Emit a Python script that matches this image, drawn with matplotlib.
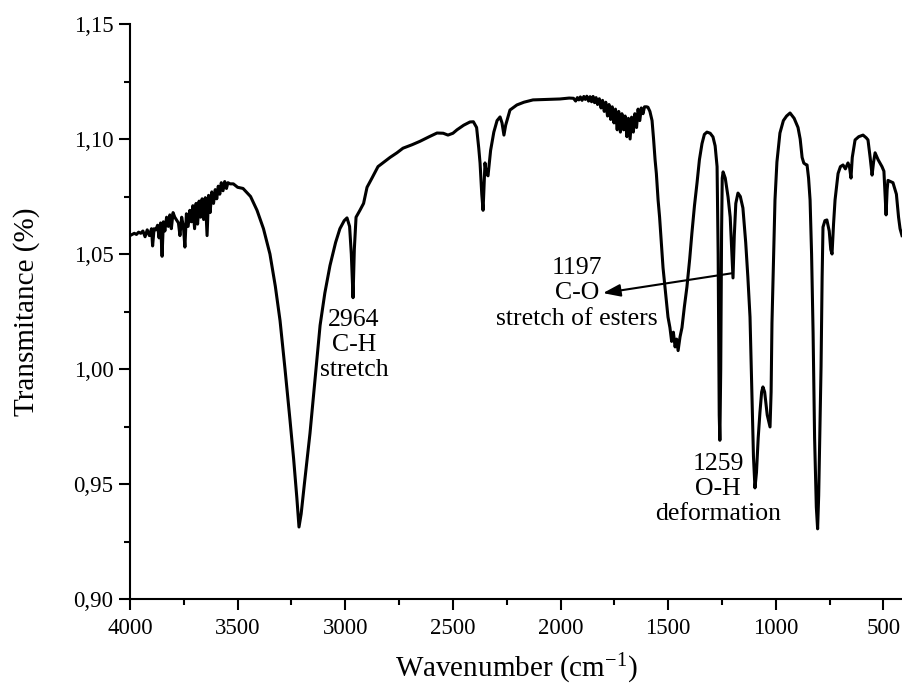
import numpy as np
import matplotlib
matplotlib.use('Agg')
import matplotlib.pyplot as plt
from matplotlib.ticker import MultipleLocator, FuncFormatter

# espectro FTIR (numero de onda em cm-1, transmitancia)
# 4000-3500: regiao com ruido
wn_a = [4000, 3990, 3980, 3970, 3960, 3950, 3940, 3930, 3920, 3910,
        3900, 3895, 3888, 3880, 3872, 3865, 3858, 3851, 3845, 3838,
        3830, 3822, 3815, 3808, 3800, 3792, 3785, 3775, 3768, 3760,
        3752, 3745, 3738, 3730, 3722, 3715, 3708, 3700, 3693, 3686,
        3679, 3672, 3665, 3658, 3650, 3642, 3635, 3628, 3620, 3612,
        3604, 3597, 3590, 3583, 3576, 3568, 3560, 3552, 3545, 3535,
        3520, 3500]
t_a = [1.058, 1.0585, 1.059, 1.0585, 1.0595, 1.059, 1.060, 1.0575, 1.0605, 1.058,
       1.061, 1.0535, 1.061, 1.0605, 1.0625, 1.057, 1.0635, 1.049, 1.064, 1.060,
       1.066, 1.062, 1.067, 1.061, 1.068, 1.066, 1.065, 1.0635, 1.058, 1.066,
       1.062, 1.053, 1.0675, 1.062, 1.069, 1.064, 1.071, 1.061, 1.072, 1.063,
       1.073, 1.066, 1.074, 1.065, 1.0745, 1.058, 1.0755, 1.068, 1.077, 1.072,
       1.078, 1.074, 1.0795, 1.076, 1.081, 1.0775, 1.0815, 1.0785, 1.081, 1.0805,
       1.0805, 1.079]

# 3475-1960
wn_b = [3475, 3440, 3410, 3380, 3350, 3325, 3303, 3280, 3257, 3240,
        3225, 3215, 3205, 3190, 3164, 3140, 3117, 3095, 3071, 3045,
        3025, 3005, 2992, 2980, 2972, 2964, 2958, 2950, 2932, 2915,
        2899, 2876, 2848, 2820, 2792, 2760, 2732, 2690, 2653, 2610,
        2574, 2545, 2523, 2500, 2481, 2450, 2421, 2405, 2390, 2380,
        2374, 2366, 2360, 2355, 2351, 2345, 2337, 2325, 2310, 2295,
        2281, 2272, 2263, 2255, 2235, 2203, 2170, 2128, 2060, 2003,
        1960]
t_b = [1.0785, 1.075, 1.069, 1.061, 1.050, 1.036, 1.021, 1.000, 0.978, 0.961,
       0.944, 0.9313, 0.937, 0.950, 0.972, 0.996, 1.019, 1.033, 1.045, 1.055,
       1.061, 1.0645, 1.0657, 1.062, 1.050, 1.031, 1.052, 1.066, 1.069, 1.072,
       1.079, 1.083, 1.088, 1.090, 1.092, 1.094, 1.096, 1.0975, 1.099, 1.101,
       1.1026, 1.1025, 1.1017, 1.1025, 1.104, 1.106, 1.1074, 1.1075, 1.105, 1.096,
       1.0896, 1.076, 1.069, 1.080, 1.0896, 1.085, 1.084, 1.095, 1.103, 1.108,
       1.1096, 1.107, 1.1017, 1.106, 1.1126, 1.1148, 1.116, 1.117, 1.1172, 1.1174,
       1.1178]

# 1940-1600: ruido
wn_c = [1940, 1930, 1922, 1915, 1908, 1900, 1892, 1885, 1878, 1870,
        1863, 1856, 1849, 1842, 1835, 1828, 1820, 1812, 1805, 1797,
        1790, 1782, 1775, 1767, 1760, 1752, 1745, 1737, 1730, 1722,
        1715, 1707, 1700, 1692, 1685, 1677, 1670, 1662, 1655, 1647,
        1640, 1632, 1625, 1617, 1610, 1600]
t_c = [1.1177, 1.1165, 1.1180, 1.1170, 1.1183, 1.1168, 1.1185, 1.1172, 1.1186, 1.1165,
       1.1184, 1.1162, 1.1185, 1.1158, 1.1180, 1.1150, 1.1175, 1.1135, 1.1168, 1.1120,
       1.1160, 1.1100, 1.1150, 1.1085, 1.1140, 1.1070, 1.1130, 1.1040, 1.1120, 1.1030,
       1.1110, 1.1040, 1.1100, 1.1010, 1.1090, 1.1000, 1.1095, 1.1030, 1.1110, 1.1050,
       1.1130, 1.1080, 1.1135, 1.1110, 1.1140, 1.1140]

# 1594-414: bandas
wn_d = [1594, 1585, 1575, 1568, 1561, 1555, 1547, 1540, 1532, 1524,
        1512, 1501, 1492, 1484, 1476, 1468, 1461, 1454, 1445, 1436,
        1425, 1413, 1400, 1390, 1378, 1366, 1355, 1343, 1332, 1320,
        1305, 1292, 1282, 1273, 1268, 1263, 1260, 1256, 1252, 1249,
        1245, 1235, 1222, 1212, 1205, 1199, 1193, 1186, 1176, 1165,
        1153, 1140, 1130, 1120, 1111, 1104, 1097, 1090, 1082, 1074,
        1066, 1060, 1052, 1040, 1027, 1022, 1018, 1010, 1004, 995,
        981, 965, 950, 934, 915, 897, 887, 878, 870, 862,
        855, 848, 841, 834, 827, 820, 812, 806, 801, 795,
        790, 785, 781, 772, 763, 752, 745, 739, 732, 725,
        711, 700, 688, 677, 665, 658, 651, 645, 632, 615,
        595, 580, 572, 562, 553, 546, 539, 525, 507, 498,
        488, 483, 479, 468, 456, 440, 430, 423, 414]
t_d = [1.1138, 1.112, 1.108, 1.100, 1.091, 1.085, 1.0735, 1.066, 1.055, 1.044,
       1.033, 1.0226, 1.018, 1.012, 1.016, 1.0096, 1.013, 1.008, 1.014, 1.018,
       1.027, 1.0357, 1.048, 1.059, 1.071, 1.081, 1.091, 1.098, 1.102, 1.103,
       1.1025, 1.1009, 1.097, 1.088, 1.050, 0.980, 0.969, 1.000, 1.060, 1.083,
       1.0857, 1.083, 1.0748, 1.066, 1.052, 1.0396, 1.058, 1.072, 1.0765, 1.075,
       1.070, 1.055, 1.040, 1.0226, 0.988, 0.962, 0.9483, 0.955, 0.970, 0.981,
       0.990, 0.9922, 0.990, 0.980, 0.9748, 0.990, 1.020, 1.050, 1.0735, 1.090,
       1.1026, 1.108, 1.110, 1.1113, 1.109, 1.105, 1.100, 1.092, 1.0895, 1.0890,
       1.0887, 1.083, 1.0735, 1.050, 1.0157, 0.970, 0.940, 0.9305, 0.945, 0.975,
       1.001, 1.040, 1.0617, 1.0645, 1.0648, 1.060, 1.052, 1.050, 1.063, 1.0735,
       1.085, 1.0880, 1.0887, 1.0870, 1.0896, 1.0880, 1.083, 1.092, 1.0996, 1.1010,
       1.1017, 1.1005, 1.0996, 1.092, 1.0843, 1.090, 1.094, 1.091, 1.088, 1.086,
       1.067, 1.078, 1.082, 1.0815, 1.081, 1.076, 1.066, 1.061, 1.058]

numero_onda = np.array(wn_a + wn_b + wn_c + wn_d)
transmitancia = np.array(t_a + t_b + t_c + t_d)

plt.rcParams['font.family'] = ['Liberation Serif', 'DejaVu Serif']
plt.rcParams['mathtext.fontset'] = 'custom'
plt.rcParams['mathtext.rm'] = 'Liberation Serif'
plt.rcParams['mathtext.it'] = 'Liberation Serif:italic'

fig = plt.figure(figsize=(9.02, 6.88), dpi=100)
ax = fig.add_axes([130/902, 89/688, 772/902, 575/688])

ax.plot(numero_onda, transmitancia, color='black', lw=2.2)

ax.set_xlim(4000, 414)
ax.set_ylim(0.90, 1.15)
ax.xaxis.set_major_locator(MultipleLocator(500))
ax.xaxis.set_minor_locator(MultipleLocator(250))
ax.yaxis.set_major_locator(MultipleLocator(0.05))
ax.yaxis.set_minor_locator(MultipleLocator(0.025))
ax.yaxis.set_major_formatter(FuncFormatter(lambda v, p: f'{v:.2f}'.replace('.', ',')))

ax.spines['top'].set_visible(False)
ax.spines['right'].set_visible(False)
ax.spines['left'].set_linewidth(1.5)
ax.spines['bottom'].set_linewidth(1.5)
ax.tick_params(which='major', direction='out', length=8, width=1.5, labelsize=16.5)
ax.tick_params(which='minor', direction='out', length=4.5, width=1.5)
ax.tick_params(axis='x', which='major', pad=6)
ax.tick_params(axis='y', which='major', pad=4)

ax.set_xlabel('Wavenumber (cm$^{-1}$)', fontsize=21, labelpad=9)
ax.set_ylabel('Transmitance (%)', fontsize=21, labelpad=24)

# anotacoes das bandas
ax.text(2959, 1.0104, '2964\nC-H\nstretch', fontsize=18.5, ha='center', va='center')
ax.text(1924, 1.033, '1197\nC-O\nstretch of esters', fontsize=18.5, ha='center', va='center')
ax.text(1269, 0.9478, '1259\nO-H\ndeformation', fontsize=18.5, ha='center', va='center')
ax.annotate('', xy=(1803, 1.033), xytext=(1199, 1.0417),
            arrowprops=dict(arrowstyle='-|>,head_length=0.7,head_width=0.25',
                            mutation_scale=15, color='black', lw=1.5,
                            shrinkA=0, shrinkB=0))

plt.savefig('out.png', dpi=100)
